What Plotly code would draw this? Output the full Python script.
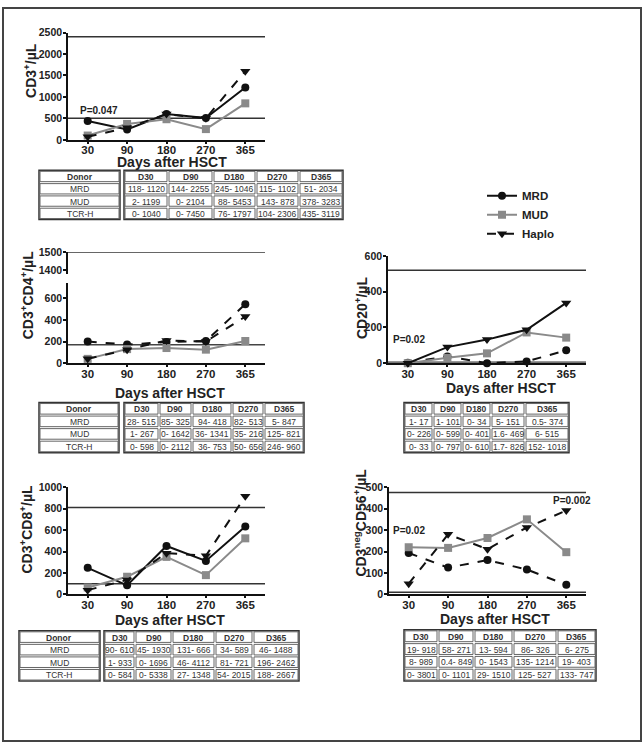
import plotly.graph_objects as go

W, H = 644, 750
FONT = "Arial, Liberation Sans, sans-serif"

days = ["30", "90", "180", "270", "365"]
series_names = ["MRD", "MUD", "Haplo"]

cd3_mrd = [440, 240, 600, 510, 1220]
cd3_mud = [100, 370, 480, 250, 850]
cd3_haplo = [70, 280, 600, 500, 1600]

cd4_mrd = [200, 172, 195, 205, 545]
cd4_mud = [40, 130, 140, 125, 205]
cd4_haplo = [40, 125, 210, 200, 430]

cd20_mrd = [3, 38, 0, 10, 72]
cd20_mud = [0, 30, 55, 172, 143]
cd20_haplo = [0, 90, 132, 187, 337]

cd8_mrd = [248, 85, 452, 312, 633]
cd8_mud = [65, 165, 350, 180, 523]
cd8_haplo = [40, 135, 385, 360, 915]

cd56_mrd = [193, 125, 160, 116, 45]
cd56_mud = [220, 217, 263, 350, 197]
cd56_haplo = [50, 280, 211, 312, 391]

ref_cd3 = [2400, 500]
ref_cd4_upper = [1500]
ref_cd4_lower = [170]
ref_cd20 = [520]
ref_cd8 = [810, 100]
ref_cd56 = [475, 10]

table_cols = ["D30", "D90", "D180", "D270", "D365"]
donors = ["MRD", "MUD", "TCR-H"]
cd3_table = [["118- 1120", "144- 2255", "245- 1046", "115- 1102", "51- 2034"],
             ["2- 1199", "0- 2104", "88- 5453", "143- 878", "378- 3283"],
             ["0- 1040", "0- 7450", "76- 1797", "104- 2306", "435- 3119"]]
cd4_table = [["28- 515", "85- 325", "94- 418", "82- 513", "5- 847"],
             ["1- 267", "0- 1642", "36- 1341", "35- 216", "125- 821"],
             ["0- 598", "0- 2112", "36- 753", "50- 656", "246- 960"]]
cd20_table = [["1- 17", "1- 101", "0- 34", "5- 151", "0.5- 374"],
              ["0- 226", "0- 599", "0- 401", "1.6- 469", "6- 515"],
              ["0- 33", "0- 797", "0- 610", "1.7- 826", "152- 1018"]]
cd8_table = [["90- 610", "45- 1930", "131- 666", "34- 589", "46- 1488"],
             ["1- 933", "0- 1696", "46- 4112", "81- 721", "196- 2462"],
             ["0- 584", "0- 5338", "27- 1348", "54- 2015", "188- 2667"]]
cd56_table = [["19- 918", "58- 271", "13- 594", "86- 326", "6- 275"],
              ["8- 989", "0.4- 849", "0- 1543", "135- 1214", "19- 403"],
              ["0- 3801", "0- 1101", "29- 1510", "125- 527", "133- 747"]]


def X(px):
    return px / W


def Y(py):
    return 1 - py / H


BLACK = "#111111"
GRAY = "#8a8a8a"

styles = {
    "MRD": dict(color=BLACK, symbol="circle", size=8),
    "MUD": dict(color=GRAY, symbol="square", size=8),
    "Haplo": dict(color=BLACK, symbol="triangle-down", size=9),
}

fig = go.Figure()


def add_series(xa, ya, vals, dashes, legend=False):
    for name, v, d in zip(series_names, vals, dashes):
        st = styles[name]
        fig.add_trace(go.Scatter(
            x=days, y=v, xaxis=xa, yaxis=ya, name=name, legendgroup=name,
            showlegend=legend, mode="lines+markers", cliponaxis=False,
            line=dict(color=st["color"], width=2, dash=d),
            marker=dict(color=st["color"], symbol=st["symbol"], size=st["size"]),
        ))


add_series("x", "y", [cd3_mrd, cd3_mud, cd3_haplo], ["solid", "solid", "dash"], legend=True)
add_series("x2", "y2", [cd4_mrd, cd4_mud, cd4_haplo], ["dash", "solid", "dash"])
add_series("x4", "y4", [cd20_mrd, cd20_mud, cd20_haplo], ["dash", "solid", "solid"])
add_series("x5", "y5", [cd8_mrd, cd8_mud, cd8_haplo], ["solid", "solid", "dash"])
add_series("x6", "y6", [cd56_mrd, cd56_mud, cd56_haplo], ["dash", "solid", "dash"])


def xax(l, r, anchor):
    return dict(domain=[X(l), X(r)], type="category", categoryorder="array",
                categoryarray=days, range=[-0.5, 4.5], anchor=anchor,
                showline=True, linecolor=BLACK, linewidth=1.5, ticks="outside",
                ticklen=2, tickwidth=1.5, tickcolor=BLACK, showgrid=False,
                zeroline=False, fixedrange=True, ticklabelstandoff=-3,
                tickfont=dict(family=FONT, size=11.5, color="#222", weight="bold"))


def yax(top, bottom, rng, tickvals, anchor):
    return dict(domain=[Y(bottom), Y(top)], range=rng, tickvals=tickvals,
                anchor=anchor, showline=True, linecolor=BLACK, linewidth=1.5,
                ticks="outside", ticklen=3, tickwidth=1.5, tickcolor=BLACK,
                showgrid=False, zeroline=False, fixedrange=True, ticklabelstandoff=-1,
                tickfont=dict(family=FONT, size=10.5, color="#222", weight="bold"))


layout = dict(
    width=W, height=H, margin=dict(l=0, r=0, t=0, b=0),
    paper_bgcolor="white", plot_bgcolor="rgba(0,0,0,0)",
    xaxis=xax(68, 265, "y"),
    yaxis=yax(27, 136, [0, 2500], [0, 500, 1000, 1500, 2000, 2500], "x"),
    xaxis2=xax(68, 265, "y2"),
    yaxis2=yax(281, 363, [0, 745], [0, 200, 400, 600], "x2"),
    yaxis3=yax(250, 272, [1380, 1500], [1400, 1500], "x2"),
    xaxis4=xax(388, 586, "y4"),
    yaxis4=yax(254, 363, [0, 600], [0, 200, 400, 600], "x4"),
    xaxis5=xax(68, 265, "y5"),
    yaxis5=yax(489, 598, [0, 1000], [0, 200, 400, 600, 800, 1000], "x5"),
    xaxis6=xax(389, 586, "y6"),
    yaxis6=yax(489, 598, [0, 500], [0, 100, 200, 300, 400, 500], "x6"),
    showlegend=True,
    legend=dict(x=X(482), y=Y(178), xanchor="left", yanchor="top",
                bgcolor="rgba(0,0,0,0)", itemwidth=30, tracegroupgap=0,
                font=dict(family=FONT, size=11.5, color="#222", weight="bold")),
)
fig.update_layout(**layout)

shapes = []
annotations = []

# reference lines
for xa, ya, vals, w, c in [("x", "y", ref_cd3, 1.5, "#333"),
                           ("x2", "y3", ref_cd4_upper, 1.5, "#333"),
                           ("x2", "y2", ref_cd4_lower, 1.5, "#444"),
                           ("x4", "y4", ref_cd20, 1.5, "#333"),
                           ("x5", "y5", ref_cd8, 1.5, "#333"),
                           ("x6", "y6", ref_cd56, 1.5, "#333")]:
    for v in vals:
        shapes.append(dict(type="line", xref=xa + " domain", yref=ya, x0=0, x1=1,
                           y0=v, y1=v, layer="below", line=dict(color=c, width=w)))
# thick gray baseline in CD20
shapes.append(dict(type="line", xref="x4 domain", yref="y4", x0=0, x1=1, y0=0, y1=0,
                   layer="below", line=dict(color="#777", width=4)))

# outer frame
shapes.append(dict(type="rect", xref="paper", yref="paper", x0=X(3), x1=X(641),
                   y0=Y(747), y1=Y(2), line=dict(color="#444", width=2)))


def ann(text, cx, cy, size, bold=True, angle=0, color="#222"):
    annotations.append(dict(text=text, x=X(cx), y=Y(cy), xref="paper", yref="paper",
                            showarrow=False, textangle=angle, xanchor="center",
                            yanchor="middle",
                            font=dict(family=FONT, size=size, color=color,
                                      weight="bold" if bold else "normal")))


# axis titles
for cx, cy in [(172, 158.5), (170, 393), (501, 388), (170, 624), (495, 623)]:
    ann("Days after HSCT", cx, cy, 14)
ann("CD3<sup>+</sup>/µL", 30, 66, 14, angle=-90)
ann("CD3<sup>+</sup>CD4<sup>+</sup>/µL", 27, 294, 14, angle=-90)
ann("CD20<sup>+</sup>/µL", 361, 307, 14, angle=-90)
ann("CD3<sup>+</sup>CD8<sup>+</sup>/µL", 27, 532, 14, angle=-90)
ann("CD3<sup>neg</sup>CD56<sup>+</sup>/µL", 360, 525, 14, angle=-90)

# p-values
ann("P=0.047", 99, 106, 10)
ann("P=0.02", 409, 339, 10)
ann("P=0.02", 409, 533, 10)
ann("P=0.002", 572, 503, 10)


def draw_table(col_edges, y0, y1, data, donor_edges=None):
    nrows = len(data) + 1
    rh = (y1 - y0) / nrows
    header = table_cols
    blocks = [(col_edges, [header] + data)]
    if donor_edges is not None:
        blocks.append((donor_edges, [["Donor"]] + [[d] for d in donors]))
    for edges, rows in blocks:
        shapes.append(dict(type="rect", xref="paper", yref="paper",
                           x0=X(edges[0]), x1=X(edges[-1]), y0=Y(y1), y1=Y(y0),
                           line=dict(color="#333", width=1.5)))
        for r, row in enumerate(rows):
            ry0 = y0 + r * rh
            for c, txt in enumerate(row):
                cx0, cx1 = edges[c], edges[c + 1]
                shapes.append(dict(type="rect", xref="paper", yref="paper",
                                   x0=X(cx0 + 1), x1=X(cx1 - 1),
                                   y0=Y(ry0 + rh - 1), y1=Y(ry0 + 1),
                                   line=dict(color="#666", width=1)))
                ann(txt, (cx0 + cx1) / 2, ry0 + rh / 2 + 0.5, 8.5,
                    bold=(r == 0), color="#333")


draw_table([124, 168, 213, 256, 299, 343], 167, 217, cd3_table, [39, 120])
draw_table([124, 159, 192, 232, 264, 304], 403, 454, cd4_table, [39, 119])
draw_table([404, 433, 462, 491, 525, 569], 403, 454, cd20_table)
draw_table([104, 135, 172, 215, 253, 299], 635, 686, cd8_table, [19, 100])
draw_table([404, 438, 474, 513, 557, 596], 634, 686, cd56_table)

fig.update_layout(shapes=shapes, annotations=annotations)
fig.write_html(
    "out.html",
    config={"displayModeBar": False},
    post_script="document.body.style.margin='0';document.body.style.overflow='hidden';",
)
